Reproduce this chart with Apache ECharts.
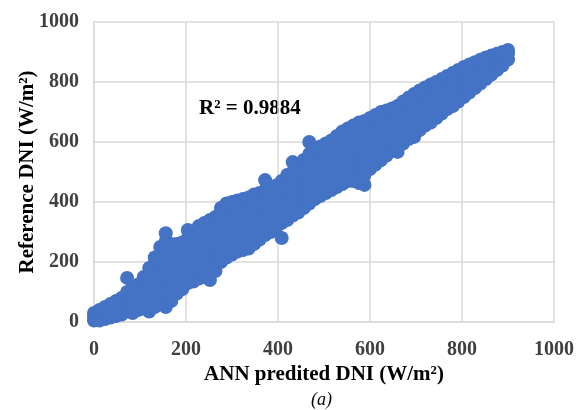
<!DOCTYPE html>
<html><head><meta charset="utf-8">
<script src="https://cdn.jsdelivr.net/npm/echarts@6/dist/echarts.min.js"></script>
<style>html,body{margin:0;padding:0;background:#fff}#c{width:581px;height:410px}</style>
</head><body><div id="c"></div>
<script>
const xTicks = [0, 200, 400, 600, 800, 1000];
const yTicks = [0, 200, 400, 600, 800, 1000];
const xTitle = 'ANN predited DNI (W/m²)';
const yTitle = 'Reference DNI (W/m²)';
const r2Label = 'R² = 0.9884';
const caption = '(a)';
// ANN predicted value of each column of points, and the reference values read in that column
const predictedX = [0,12,24,36,48,60,72,84,96,108,120,132,144,156,168,180,192,204,216,228,240,252,264,276,288,300,312,324,336,348,360,372,384,396,408,420,432,444,456,468,480,492,504,516,528,540,552,564,576,588,600,612,624,636,648,660,672,684,696,708,720,732,744,756,768,780,792,804,816,828,840,852,864,876,888,900];
const referenceY = [
[5,18,30],[5,22,40],[10,30,50],[15,38,60],[20,45,70],[25,52,80],[35,65,100,147],[30,58,86,115],[40,68,96,125],[45,80,115,150],
[35,65,95,125,155,180],[50,80,110,140,170,195,215],[60,90,120,150,180,210,250],[50,100,140,170,200,230,270,296],[70,100,150,180,210,240,260],
[95,125,155,185,215,240,260],[110,140,170,200,230,265],[130,160,190,220,250,280,307],[135,165,195,225,255,280,300],[145,175,205,235,265,295,320],
[150,180,210,240,270,300,330],[140,170,200,230,260,290,320,340],[170,200,230,260,290,320,350],[200,230,260,290,320,350,380],[215,245,275,305,335,365,395],
[225,255,285,315,345,375,400],[235,265,295,325,355,385,405],[240,270,300,330,360,390,410],[245,275,305,335,365,395,415],[260,290,320,350,380,405,425],
[275,305,335,365,395,430],[290,320,350,380,410,440,473],[300,330,360,390,420,445],[315,345,375,405,430,455],[280,330,360,390,420,450,470],
[340,370,400,430,460,490],[355,385,415,445,475,500,533],[365,395,425,455,485,510],[380,410,440,470,500,540],[395,425,455,485,515,545,560,600],
[410,440,470,500,530,570],[420,450,480,510,540,585],[430,460,490,520,550,575,595],[440,470,500,530,560,590,605],[450,480,510,540,570,600,620],
[460,490,520,550,580,610,635],[470,500,530,560,590,620,645],[470,480,510,540,570,600,630,655],[463,480,510,540,570,600,630,665],[457,490,520,550,580,610,640,670],
[510,540,570,600,630,660,680],[525,555,585,615,645,670,690],[540,570,600,630,660,690,700],[555,585,615,645,675,705],[570,600,630,660,690,712],
[567,580,610,640,670,700,720],[595,625,655,685,715,735],[610,640,670,700,730,748],[617,625,655,685,715,745,760],[640,670,700,730,760,772],
[655,685,715,745,770,782],[665,695,725,755,780,792],[680,710,740,770,800],[695,725,755,785,810],[710,740,770,800,820],
[720,750,780,810,830],[735,765,795,820,840],[750,780,810,835,850],[765,795,825,845,858],[780,810,840,866],
[795,825,850,874],[810,840,865,882],[825,855,875,888],[840,865,885,894],[855,880,900],[875,895,907]
];
const points = [];
predictedX.forEach((x, i) => referenceY[i].forEach(y => points.push([x, y])));

const FONT = '"Liberation Serif","Times New Roman",serif';
const chart = echarts.init(document.getElementById('c'), null, {renderer:'canvas'});
chart.setOption({
  animation:false,
  backgroundColor:'#fff',
  grid:{left:94,right:27,top:22,bottom:88,containLabel:false},
  xAxis:{type:'value',min:xTicks[0],max:xTicks[xTicks.length-1],interval:xTicks[1]-xTicks[0],
    name:xTitle,nameLocation:'middle',nameGap:42,nameMoveOverlap:false,
    nameTextStyle:{fontFamily:FONT,fontWeight:'bold',fontSize:21,color:'#000'},
    axisLine:{show:true,lineStyle:{color:'#d9d9d9',width:1.5}},axisTick:{show:false},
    axisLabel:{fontFamily:FONT,fontWeight:'bold',fontSize:20,color:'#404040',margin:18,formatter:v=>String(v)},
    splitLine:{show:true,lineStyle:{color:'#d9d9d9',width:1.5}}},
  yAxis:{type:'value',min:yTicks[0],max:yTicks[yTicks.length-1],interval:yTicks[1]-yTicks[0],
    name:yTitle,nameLocation:'middle',nameGap:56,nameMoveOverlap:false,
    nameTextStyle:{fontFamily:FONT,fontWeight:'bold',fontSize:21,color:'#000'},
    axisLine:{show:true,lineStyle:{color:'#d9d9d9',width:1.5}},axisTick:{show:false},
    axisLabel:{fontFamily:FONT,fontWeight:'bold',fontSize:20,color:'#404040',margin:15,formatter:v=>String(v)},
    splitLine:{show:true,lineStyle:{color:'#d9d9d9',width:1.5}}},
  series:[{type:'scatter',data:points,symbol:'circle',symbolSize:14,large:false,
    itemStyle:{color:'#4472C4',opacity:1,borderWidth:0}}],
  graphic:[
    {type:'text',left:199,top:98,style:{text:r2Label,font:'bold 21px '+FONT,fill:'#000'}},
    {type:'text',left:311,top:391,style:{text:caption,font:'italic 18px '+FONT,fill:'#000'}}
  ]
});
</script></body></html>
